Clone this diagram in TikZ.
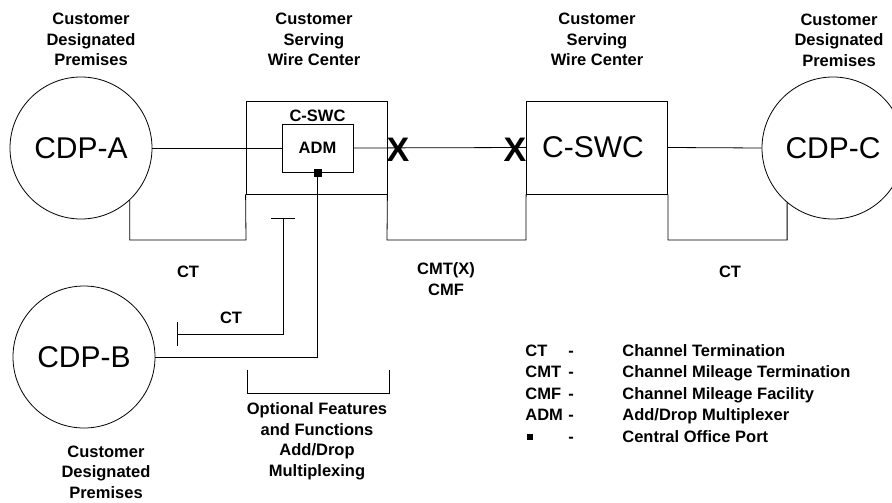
\documentclass[tikz,border=0pt]{standalone}
\usepackage{fontspec}
\setmainfont{Liberation Sans}
\begin{document}
\begin{tikzpicture}[x=1pt,y=-1pt,line width=0.8pt,
  lbl/.style={font=\fontsize{16.5}{20.5}\selectfont\bfseries,align=center,inner sep=0pt},
  big/.style={font=\fontsize{30}{36}\selectfont},
  cdp/.style={circle,draw,minimum size=142pt,inner sep=0pt,big},
  swcbox/.style={draw,minimum width=141pt,minimum height=93pt,inner sep=0pt},
  admbox/.style={draw,minimum width=71pt,minimum height=48pt,inner sep=0pt,lbl},
  xmark/.style={font=\fontsize{34}{34}\selectfont\bfseries,inner sep=0pt},
  portsq/.style={fill,draw,minimum size=7pt,inner sep=0pt},
  legabbr/.style={lbl,anchor=base west},
  legdash/.style={lbl,anchor=base},
  legdesc/.style={lbl,anchor=base west}]
\useasboundingbox (0,0) rectangle (892,503);

% headers
\node[lbl] (hA) at (91,39.5) {Customer\\Designated\\Premises};
\node[lbl] (h1) at (314,39.5) {Customer\\Serving\\Wire Center};
\node[lbl] (h2) at (597,39.5) {Customer\\Serving\\Wire Center};
\node[lbl] (hC) at (839,40) {Customer\\Designated\\Premises};

% main shapes
\node[cdp] (cdpA) at (81,148) {CDP-A};
\node[cdp] (cdpC) at (833,148) {CDP-C};
\node[cdp] (cdpB) at (84,357) {CDP-B};
\node[swcbox] (swc1) at (316.5,147.5) {};
\node[admbox] (adm) at (317.5,148) {ADM};
\node[lbl,above=2pt] (cswc) at (adm.north) {C-SWC};
\node[portsq] (port) at (adm.south) {};
\node[swcbox,big] (swc2) at (597,147.5) {C-SWC\hspace*{8pt}};

% main line
\draw (cdpA.east) -- (adm.west);
\draw (adm.east) -- (swc2.west);
\draw (swc2.east) -- (cdpC.west);
\node[xmark] (x1) at (398,150) {X};
\node[xmark] (x2) at (515,150) {X};

% bottom loops
\coordinate (b1) at (246,240);
\coordinate (b2) at (387,240);
\coordinate (b3) at (526,240);
\coordinate (b4) at (668,240);
\draw (cdpA.-47) |- (b1) -- (swc1.south west);
\draw (swc1.south east) -- (b2) -- (b3) -- (swc2.south west);
\draw (swc2.south east) -- (b4) -| (cdpC.230);

% port to CDP-B
\draw (port.south) |- (cdpB.east);

% T-bar CT
\coordinate (tl) at (271,218);
\coordinate (tr) at (295,218);
\coordinate (t1) at (283,218);
\coordinate (t2) at (283,334);
\coordinate (t3) at (177,334);
\coordinate (k1) at (177,322);
\coordinate (k2) at (177,346);
\draw (tl) -- (tr);
\draw (t1) -- (t2) -- (t3);
\draw (k1) -- (k2);

% bracket
\coordinate (br1) at (247,370);
\coordinate (br2) at (389,393);
\coordinate (br3) at (389,370);
\draw (br1) |- (br2) -- (br3);

% labels
\node[lbl] (ctA) at (188,272) {CT};
\node[lbl] (ctB) at (231,318) {CT};
\node[lbl] (cmt) at (446,279) {CMT(X)\\CMF};
\node[lbl] (ctC) at (730,272) {CT};
\node[lbl] (opt) at (317,441.5) {Optional Features\\and Functions\\Add/Drop\\Multiplexing};
\node[lbl] (hB) at (106,472) {Customer\\Designated\\Premises};

% legend (baselines)
\node[legabbr] (l1) at (525,356) {CT};
\node[legabbr] (l2) at (525,377.5) {CMT};
\node[legabbr] (l3) at (525,399) {CMF};
\node[legabbr] (l4) at (525,420.5) {ADM};
\node[portsq,minimum size=5pt] (l5) at (530,437) {};
\foreach \yy/\nm in {356/d1,377.5/d2,399/d3,420.5/d4,442/d5}
  \node[legdash] (\nm) at (571,\yy) {-};
\node[legdesc] (e1) at (622,356) {Channel Termination};
\node[legdesc] (e2) at (622,377.5) {Channel Mileage Termination};
\node[legdesc] (e3) at (622,399) {Channel Mileage Facility};
\node[legdesc] (e4) at (622,420.5) {Add/Drop Multiplexer};
\node[legdesc] (e5) at (622,442) {Central Office Port};
\end{tikzpicture}
\end{document}
